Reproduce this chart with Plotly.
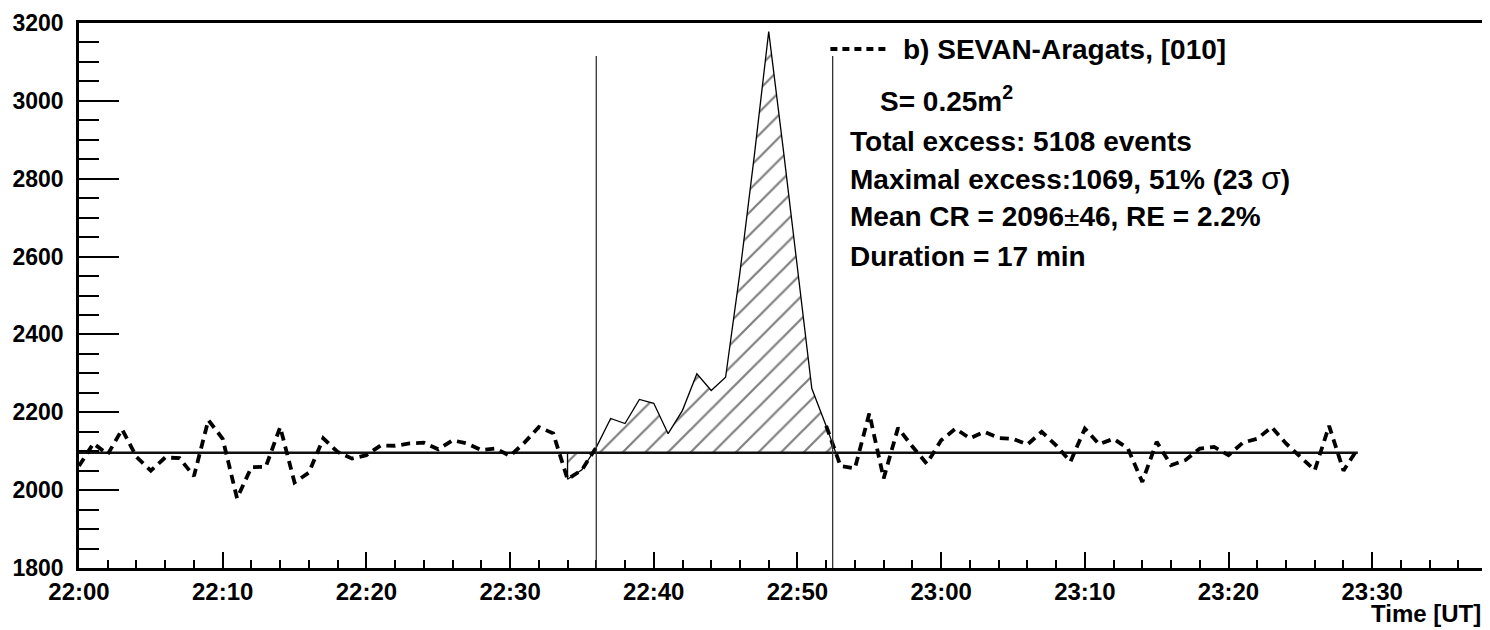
import pandas as pd
import plotly.graph_objects as go

# ---------------- data ----------------
start_time = "2000-01-01 22:00"          # first 1-minute bin (22:00 UT)
counts = [
    2062, 2120, 2092, 2156, 2085, 2050, 2084, 2082, 2036, 2180,
    2132, 1979, 2059, 2060, 2162, 2020, 2045, 2133, 2098, 2081,
    2090, 2115, 2114, 2120, 2122, 2105, 2128, 2120, 2103, 2107,
    2088, 2122, 2162, 2146, 2028, 2052, 2110, 2184, 2171, 2233,
    2223, 2145, 2205, 2299, 2256, 2290, 2560, 2860, 3178, 2880,
    2571, 2261, 2165, 2062, 2056, 2197, 2030, 2160, 2112, 2068,
    2128, 2158, 2133, 2150, 2134, 2132, 2117, 2150, 2115, 2073,
    2158, 2118, 2132, 2107, 2021, 2124, 2064, 2077, 2107, 2111,
    2090, 2122, 2132, 2162, 2120, 2085, 2051, 2165, 2050, 2107,
]
mean_cr = 2096
fill_first_idx = 34          # hatched excess polygon starts at 22:34
fill_last_idx = 52           # ... and follows the data to 22:52
dashed_gap = [37, 51]        # peak part drawn only by the thin polygon outline
event_bounds_min = [36.0, 52.45]   # vertical markers (minutes after 22:00)
marker_top = 3115
x_range_min = [0, 97.85]
y_range = [1800, 3200]
x_title = "Time [UT]"
legend_name = "b) SEVAN-Aragats, [010]"
info_lines = [
    "<b>S= 0.25m<sup>2</sup></b>",
    "<b>Total excess: 5108 events</b>",
    "<b>Maximal excess:1069, 51% (23 </b><span style='font-size:32px'>σ</span><b>)</b>",
    "<b>Mean CR = 2096</b>±<b>46, RE = 2.2%</b>",
    "<b>Duration = 17 min</b>",
]

# ---------------- derived ----------------
t0 = pd.Timestamp(start_time)
times = [t0 + pd.Timedelta(minutes=i) for i in range(len(counts))]

def tmin(m):
    return t0 + pd.Timedelta(minutes=m)

# excess polygon (closed back to the mean level)
c_end, c_next = counts[fill_last_idx], counts[fill_last_idx + 1]
cross = fill_last_idx + (c_end - mean_cr) / (c_end - c_next)
poly_x = [times[fill_first_idx]] + times[fill_first_idx:fill_last_idx + 1] + [tmin(cross), times[fill_first_idx]]
poly_y = [mean_cr] + counts[fill_first_idx:fill_last_idx + 1] + [mean_cr, mean_cr]

dashed_y = [c if not (dashed_gap[0] <= i <= dashed_gap[1]) else None for i, c in enumerate(counts)]

# page geometry: the browser adds an 8px body margin, so the figure is
# drawn 8px smaller and every pixel position is given relative to it
OFF = 8
W, H = 1490 - OFF, 630 - OFF
L, R, T, B = 79 - OFF, 1488 - OFF, 22 - OFF, 568 - OFF

def px(xp):
    return (xp - OFF - L) / (R - L)

def py(yp):
    return (B - (yp - OFF)) / (B - T)

FONT = "Liberation Sans, Arial, Helvetica, sans-serif"

fig = go.Figure()

fig.add_trace(go.Scatter(
    x=poly_x, y=poly_y, mode="lines", fill="toself",
    fillcolor="rgba(255,255,255,0)",
    fillpattern=dict(shape="/", size=16, solidity=0.14, fgcolor="black",
                     bgcolor="rgba(255,255,255,0)"),
    line=dict(color="black", width=1.3),
    hoverinfo="skip", showlegend=False,
))

fig.add_trace(go.Scatter(
    x=times, y=[mean_cr] * len(times), mode="lines",
    line=dict(color="#111111", width=2.6), showlegend=False,
))

fig.add_trace(go.Scatter(
    x=times, y=dashed_y, mode="lines", connectgaps=False,
    line=dict(color="black", width=3.8, dash="9px,6px"),
    name=legend_name, showlegend=False,
))

for m in event_bounds_min:
    fig.add_shape(type="line", xref="x", yref="y",
                  x0=tmin(m), x1=tmin(m), y0=y_range[0], y1=marker_top,
                  line=dict(color="#333333", width=1.3))

# legend-like dashed sample + title
fig.add_shape(type="line", xref="paper", yref="paper",
              x0=px(832), x1=px(889), y0=py(48), y1=py(48),
              line=dict(color="black", width=4, dash="7px,5px"))
fig.add_annotation(x=px(903), y=py(49), xref="paper", yref="paper",
                   text="<b>" + legend_name + "</b>", showarrow=False,
                   xanchor="left", yanchor="middle",
                   font=dict(family=FONT, size=28, color="black"))

info_pos = [(880, 98), (850, 141), (850, 177), (850, 216), (850, 256)]
for txt, (xx, yy) in zip(info_lines, info_pos):
    fig.add_annotation(x=px(xx), y=py(yy), xref="paper", yref="paper",
                       text=txt, showarrow=False, xanchor="left", yanchor="middle",
                       font=dict(family=FONT, size=28, color="black"))

fig.add_annotation(x=px(1486), y=py(614), xref="paper", yref="paper",
                   text="<b>" + x_title + "</b>", showarrow=False,
                   xanchor="right", yanchor="middle",
                   font=dict(family=FONT, size=24, color="black"))

fig.update_layout(
    width=W, height=H,
    margin=dict(l=L, r=W - R, t=T, b=H - B),
    plot_bgcolor="white", paper_bgcolor="white",
    font=dict(family=FONT, color="black"),
    showlegend=False,
    xaxis=dict(
        type="date", range=[tmin(x_range_min[0]), tmin(x_range_min[1])],
        tick0=start_time, dtick=600000, tickformat="%H:%M",
        ticks="inside", ticklen=16, tickwidth=2, tickcolor="black",
        showline=True, linewidth=2.5, linecolor="black", mirror=True,
        showgrid=False, zeroline=False,
        tickfont=dict(family=FONT, size=24, color="black", weight=700),
        minor=dict(dtick=120000, tick0=start_time, ticks="inside", ticklen=8,
                   tickwidth=2, tickcolor="black", showgrid=False),
    ),
    yaxis=dict(
        range=y_range, tick0=1800, dtick=200,
        ticks="inside", ticklen=40, tickwidth=2, tickcolor="black",
        showline=True, linewidth=2.5, linecolor="black", mirror=True,
        showgrid=False, zeroline=False, ticklabelstandoff=8,
        tickfont=dict(family=FONT, size=23, color="black", weight=700),
        minor=dict(dtick=50, ticks="inside", ticklen=20, tickwidth=2,
                   tickcolor="black", showgrid=False),
    ),
)

fig.write_html("out.html")
